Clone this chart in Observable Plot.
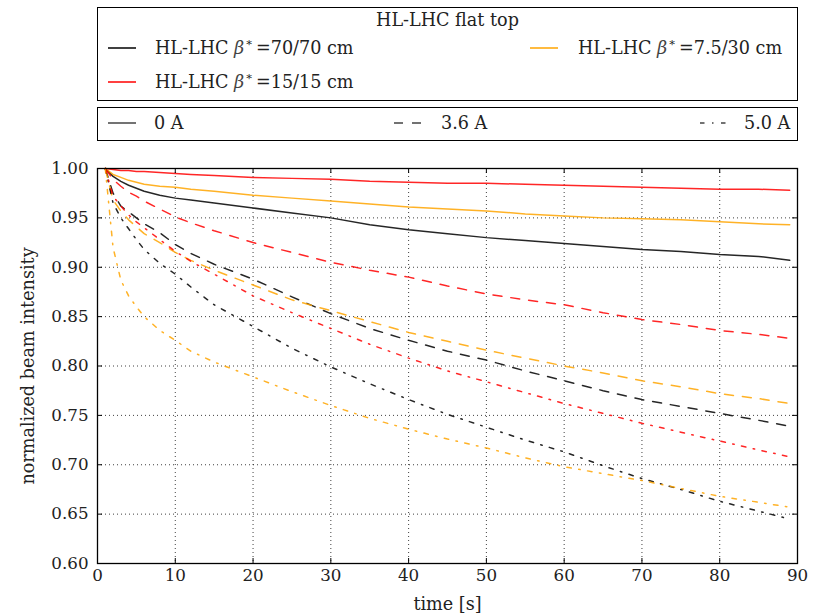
<!DOCTYPE html>
<html><head><meta charset="utf-8">
<script src="https://cdn.jsdelivr.net/npm/d3@7"></script>
<script src="https://cdn.jsdelivr.net/npm/@observablehq/plot@0.6"></script>
<style>
body{margin:0;background:#fff;font-family:"DejaVu Serif",serif;}
#legend{position:relative;width:817px;height:145px;font-size:17.6px;color:#222;}
.box{position:absolute;left:97px;width:701px;border:1px solid #000;box-sizing:border-box;}
.it{position:absolute;line-height:20px;white-space:nowrap;}
.smp{position:absolute;}
.b{font-style:italic;color:#444;}
.st{font-size:0.65em;position:relative;top:-0.55em;margin-left:2px;margin-right:4px;}
</style></head>
<body>
<div id="legend"></div>
<div id="chart"></div>
<script>
// ---- data ----
const times = [1,2,3,4,5,6,8,10,12,15,20,25,30,35,40,45,50,55,60,65,70,75,80,85,89];
const betaLabels = ["70/70", "15/15", "7.5/30"];
const betaColors = ["#000000", "#ff0000", "#ffa500"];
const currentLabels = ["0 A", "3.6 A", "5.0 A"];
// 0 A
const b70_0A  = [1.000,0.992,0.987,0.983,0.980,0.977,0.973,0.970,0.968,0.965,0.960,0.955,0.950,0.943,0.938,0.934,0.930,0.927,0.924,0.921,0.918,0.916,0.913,0.911,0.907];
const b15_0A  = [1.000,0.999,0.998,0.998,0.997,0.997,0.996,0.995,0.994,0.993,0.991,0.990,0.989,0.987,0.986,0.985,0.985,0.984,0.983,0.982,0.981,0.980,0.979,0.979,0.978];
const b75_0A  = [1.000,0.994,0.991,0.988,0.986,0.984,0.982,0.981,0.979,0.977,0.973,0.970,0.967,0.964,0.961,0.959,0.957,0.954,0.952,0.950,0.949,0.948,0.946,0.944,0.943];
// 3.6 A
const b70_36A = [1.000,0.975,0.962,0.956,0.950,0.944,0.935,0.923,0.914,0.903,0.888,0.870,0.853,0.838,0.826,0.815,0.806,0.795,0.785,0.775,0.766,0.759,0.752,0.745,0.739];
const b15_36A = [1.000,0.989,0.982,0.976,0.972,0.967,0.959,0.951,0.945,0.937,0.925,0.915,0.905,0.897,0.890,0.881,0.873,0.867,0.862,0.854,0.847,0.842,0.836,0.832,0.828];
const b75_36A = [1.000,0.968,0.957,0.948,0.941,0.934,0.925,0.915,0.907,0.897,0.882,0.867,0.856,0.845,0.834,0.825,0.816,0.808,0.800,0.793,0.785,0.779,0.772,0.767,0.762];
// 5.0 A
const b70_50A = [1.000,0.965,0.950,0.939,0.928,0.918,0.904,0.893,0.880,0.862,0.840,0.818,0.799,0.782,0.766,0.751,0.738,0.725,0.713,0.699,0.686,0.675,0.663,0.653,0.645];
const b15_50A = [1.000,0.972,0.962,0.953,0.946,0.940,0.928,0.916,0.906,0.893,0.871,0.854,0.838,0.822,0.808,0.795,0.784,0.773,0.762,0.752,0.742,0.733,0.724,0.715,0.708];
const b75_50A = [1.000,0.920,0.887,0.871,0.860,0.850,0.836,0.826,0.815,0.804,0.789,0.774,0.760,0.747,0.736,0.726,0.717,0.707,0.698,0.691,0.684,0.676,0.668,0.662,0.657];
const xTicks = [0,10,20,30,40,50,60,70,80,90];
const yTicks = [0.60,0.65,0.70,0.75,0.80,0.85,0.90,0.95,1.00];

const seriesByCurrent = [
  [b70_0A, b15_0A, b75_0A],
  [b70_36A, b15_36A, b75_36A],
  [b70_50A, b15_50A, b75_50A]
];
const dashes = ["none", "9,9", "4.5,7.5,1.5,7.5"];

// ---- legend (HTML) ----
const L = document.getElementById("legend");
function add(html){ L.insertAdjacentHTML("beforeend", html); }
add(`<div class="box" style="top:7px;height:94px"></div>`);
add(`<div class="box" style="top:107px;height:34px"></div>`);
add(`<div class="it" style="left:0;width:895px;text-align:center;top:10px">HL-LHC flat top</div>`);
function sample(x, yc, color, dash){
  return `<svg class="smp" style="left:${x}px;top:${yc-3}px" width="28" height="6"><line x1="0" x2="28" y1="3" y2="3" stroke="${color}" stroke-width="1.5" ${dash!=="none"?`stroke-dasharray="${dash}"`:""}/></svg>`;
}
function betaText(b){ return `HL-LHC <span class="b">β</span><span class="st">*</span>=${b} cm`; }
const legPos = [[108,155,48],[108,155,82],[530,578,48]];
betaLabels.forEach((b,i)=>{
  const [lx,tx,yc] = legPos[i];
  add(sample(lx, yc, betaColors[i], "none"));
  add(`<div class="it" style="left:${tx}px;top:${yc-10}px">${betaText(b)}</div>`);
});
const curPos = [[108,154],[394,441],[700,744]];
currentLabels.forEach((c,i)=>{
  const [lx,tx] = curPos[i];
  add(sample(lx, 123, "#444", dashes[i]));
  add(`<div class="it" style="left:${tx}px;top:113px">${c}</div>`);
});

// ---- chart ----
const W = 817, H = 469, mT = 23, mB = 51, mL = 97, mR = 20;
const innerH = H - mT - mB, innerW = W - mL - mR;
const lineMarks = seriesByCurrent.map((arrs, ci) => {
  const rows = [];
  arrs.forEach((vals, bi) => vals.forEach((v, k) => rows.push({t: times[k], v, beta: betaLabels[bi]})));
  return Plot.line(rows, {x: "t", y: "v", z: "beta", stroke: "beta", strokeWidth: 1.5, strokeOpacity: 0.85,
    strokeDasharray: dashes[ci] === "none" ? undefined : dashes[ci]});
});
const grid = {stroke: "#000", strokeOpacity: 0.75, strokeWidth: 1, strokeDasharray: "1,3"};
const chart = Plot.plot({
  width: W, height: H, marginTop: mT, marginBottom: mB, marginLeft: mL, marginRight: mR,
  style: {fontFamily: "DejaVu Serif", fontSize: "16.7px", color: "#222", background: "#fff"},
  x: {domain: [0, 90], label: null},
  y: {domain: [0.6, 1.0], label: null},
  color: {domain: betaLabels, range: betaColors},
  marks: [
    Plot.gridX(xTicks, grid),
    Plot.gridY(yTicks, grid),
    ...lineMarks,
    Plot.tickX(xTicks, {x: d => d, insetTop: innerH - 5, stroke: "#000"}),
    Plot.tickX(xTicks, {x: d => d, insetBottom: innerH - 5, stroke: "#000"}),
    Plot.tickY(yTicks, {y: d => d, insetRight: innerW - 5, stroke: "#000"}),
    Plot.tickY(yTicks, {y: d => d, insetLeft: innerW - 5, stroke: "#000"}),
    Plot.frame({stroke: "#000", strokeWidth: 1.3}),
    Plot.axisX(xTicks, {tickSize: 0, tickPadding: 6, label: null}),
    Plot.axisY(yTicks, {tickSize: 0, tickPadding: 9, tickFormat: d3.format(".2f"), label: null}),
    Plot.axisX({label: "time [s]", ticks: [], tickSize: 0, labelAnchor: "center", labelOffset: 46, labelArrow: "none", fontSize: 17.6}),
    Plot.axisY({label: "normalized beam intensity", ticks: [], tickSize: 0, labelAnchor: "center", labelOffset: 76, labelArrow: "none", fontSize: 17.6})
  ]
});
document.getElementById("chart").appendChild(chart);
</script>
</body></html>
